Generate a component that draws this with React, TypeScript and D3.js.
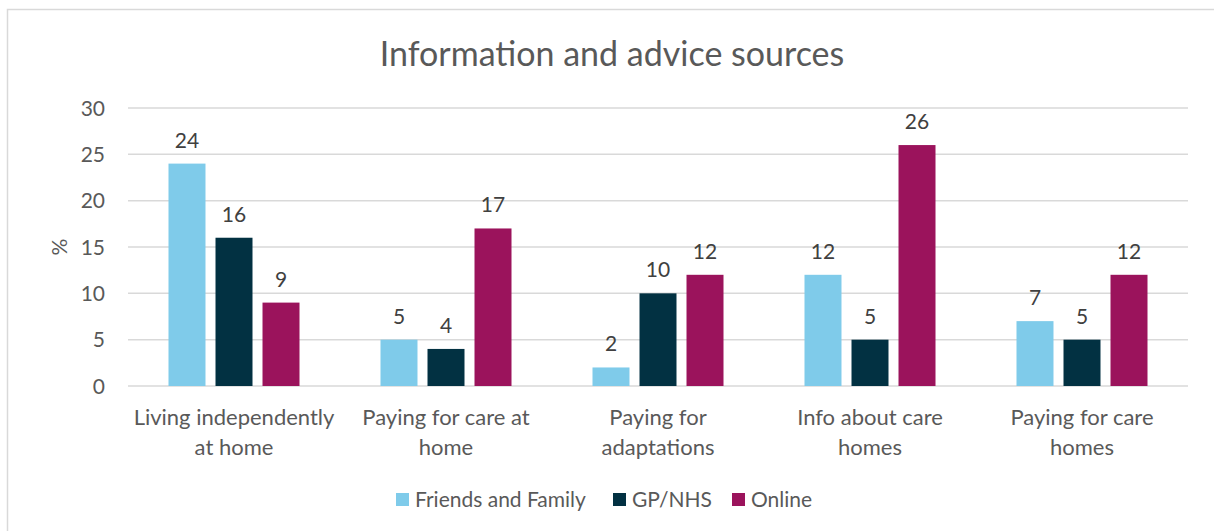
import React from "react";
import * as d3 from "d3";

const categories = [
  ["Living independently", "at home"],
  ["Paying for care at", "home"],
  ["Paying for", "adaptations"],
  ["Info about care", "homes"],
  ["Paying for care", "homes"],
];
const seriesNames = ["Friends and Family", "GP/NHS", "Online"];
const seriesColors = ["#7FCBEA", "#023142", "#9B135C"];
const friendsFamily = [24, 5, 2, 12, 7];
const gpNhs = [16, 4, 10, 5, 5];
const online = [9, 17, 12, 26, 12];
const yTicks = [0, 5, 10, 15, 20, 25, 30];
const title = "Information and advice sources";
const yLabel = "%";

const W = 1214;
const H = 531;
const FONT = "Lato, 'Open Sans', sans-serif";
const TXT = "#595959";

export default function App() {
  const series = [friendsFamily, gpNhs, online];
  const idx = categories.map((_, i) => String(i));
  const x0 = d3.scaleBand<string>().domain(idx).range([128, 1188]).padding(0);
  const x1 = d3
    .scaleBand<string>()
    .domain(seriesNames)
    .range([40.5, x0.bandwidth() - 40.5])
    .paddingInner(0.213)
    .paddingOuter(0);
  const y = d3.scaleLinear().domain([0, 30]).range([386, 108]);

  return (
    <svg
      width={W}
      height={H}
      style={{ position: "absolute", left: 0, top: 0, background: "#fff" }}
      fontFamily={FONT}
    >
      <rect x={0} y={0} width={W} height={H} fill="#fff" />
      <rect x={7.5} y={9.5} width={W + 20} height={H + 20} fill="none" stroke="#d9d9d9" strokeWidth={1.5} />
      <text x={612} y={66} textAnchor="middle" fontSize={34} fill={TXT}>
        {title}
      </text>
      {yTicks.map((t) => (
        <g key={t}>
          <line x1={128} x2={1188} y1={y(t)} y2={y(t)} stroke="#d9d9d9" strokeWidth={1.5} />
          <text x={105} y={y(t)} dy="0.36em" textAnchor="end" fontSize={21} fill={TXT}>
            {t}
          </text>
        </g>
      ))}
      <text
        transform={`translate(60,${y(15)}) rotate(-90)`}
        textAnchor="middle"
        dy="0.35em"
        fontSize={21}
        fill={TXT}
      >
        {yLabel}
      </text>
      {series.map((vals, s) => (
        <g key={s}>
          {vals.map((v, i) => {
            const bx = (x0(String(i)) as number) + (x1(seriesNames[s]) as number);
            return (
              <g key={i}>
                <rect x={bx} y={y(v)} width={x1.bandwidth()} height={y(0) - y(v)} fill={seriesColors[s]} />
                <text
                  x={bx + x1.bandwidth() / 2}
                  y={y(v) - 16}
                  textAnchor="middle"
                  fontSize={21}
                  fill="#404040"
                >
                  {v}
                </text>
              </g>
            );
          })}
        </g>
      ))}
      {categories.map((lines, i) => (
        <text
          key={i}
          x={(x0(String(i)) as number) + x0.bandwidth() / 2}
          y={425}
          textAnchor="middle"
          fontSize={22}
          fill={TXT}
        >
          {lines.map((l, j) => (
            <tspan key={j} x={(x0(String(i)) as number) + x0.bandwidth() / 2} dy={j === 0 ? 0 : 30}>
              {l}
            </tspan>
          ))}
        </text>
      ))}
      {seriesNames.map((n, s) => {
        const lx = [396, 613, 732][s];
        return (
          <g key={n}>
            <rect x={lx} y={493} width={13} height={13} fill={seriesColors[s]} />
            <text x={lx + 19} y={507} fontSize={21} fill={TXT}>
              {n}
            </text>
          </g>
        );
      })}
    </svg>
  );
}
